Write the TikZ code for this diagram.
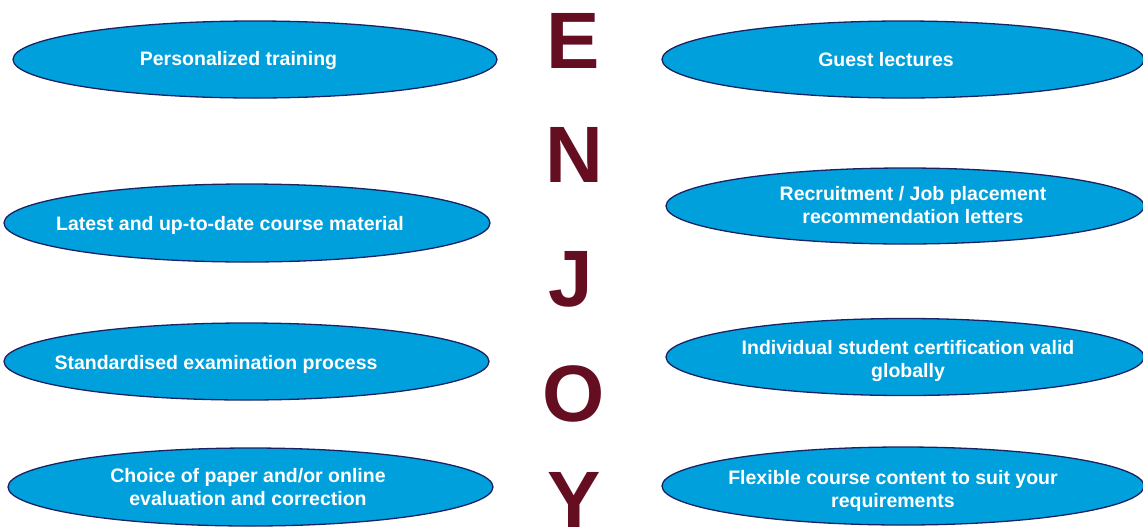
\documentclass[tikz,border=0pt]{standalone}
\usepackage{fontspec}
\setmainfont{Liberation Sans}
\usetikzlibrary{shapes.geometric,calc}
\definecolor{ellfill}{RGB}{0,160,220}
\definecolor{ellline}{RGB}{25,35,100}
\definecolor{maroon}{RGB}{101,14,34}
\tikzset{
  ell/.style={ellipse, draw=ellline, fill=ellfill, line width=1.3pt, inner sep=0pt},
  txt/.style={text=white, font=\bfseries\fontsize{19.5}{23}\selectfont, align=center, inner sep=0pt},
  letter/.style={text=maroon, font=\bfseries\fontsize{80}{80}\selectfont, inner sep=0pt, anchor=base}
}
\begin{document}
\begin{tikzpicture}[x=1pt,y=-1pt]
\useasboundingbox (0,0) rectangle (1143,531);
\begin{scope}
\clip (0,0) rectangle (1143,531);
% left ellipses
\node[ell, minimum width=484pt, minimum height=77pt] (e1) at (255,59.5) {};
\node[ell, minimum width=486pt, minimum height=78pt] (e2) at (247,223) {};
\node[ell, minimum width=485pt, minimum height=77pt] (e3) at (246.5,361.5) {};
\node[ell, minimum width=485pt, minimum height=78pt] (e4) at (250.5,487) {};
% right ellipses
\node[ell, minimum width=482pt, minimum height=77pt] (f1) at (903,59.5) {};
\node[ell, minimum width=478pt, minimum height=76pt] (f2) at (905,206) {};
\node[ell, minimum width=478pt, minimum height=77pt] (f3) at (905,357) {};
\node[ell, minimum width=482pt, minimum height=78pt] (f4) at (903,486) {};
% ENJOY (last letter runs off the bottom edge)
\node[letter] (lY) at (574,527) {Y};
\end{scope}
% texts
\node[txt] (t1) at (238.5,60) {Personalized training};
\node[txt] (t2) at (230,225) {Latest and up-to-date course material};
\node[txt] (t3) at (216,364) {Standardised examination process};
\node[txt] (t4) at (248,487) {Choice of paper and/or online\\evaluation and correction};
\node[txt] (u1) at (886,60) {Guest lectures};
\node[txt] (u2) at (913,205) {Recruitment / Job placement\\recommendation letters};
\node[txt] (u3) at (908,361) {Individual student certification valid\\globally};
\node[txt] (u4) at (893,491) {Flexible course content to suit your\\requirements};
% ENJOY
\node[letter] (lE) at (573.5,68) {E};
\node[letter] (lN) at (574.5,182) {N};
\node[letter] (lJ) at (571,306) {J};
\node[letter] (lO) at (573.5,421) {O};
\end{tikzpicture}
\end{document}
